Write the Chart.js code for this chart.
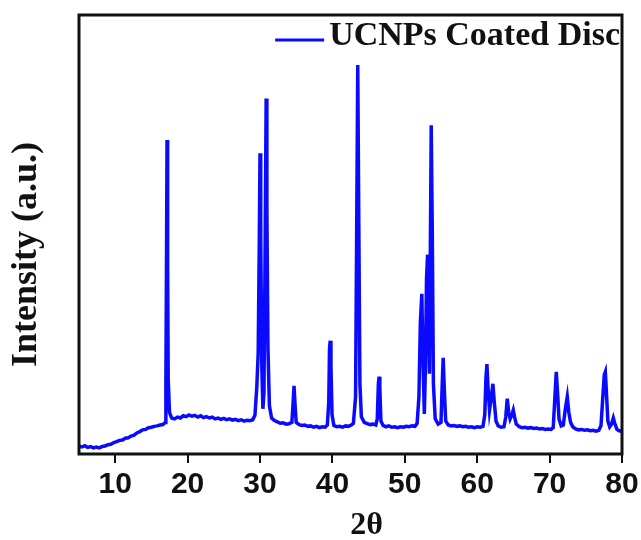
<!DOCTYPE html>
<html>
<head>
<meta charset="utf-8">
<script src="https://cdn.jsdelivr.net/npm/chart.js@4.4.1/dist/chart.umd.min.js"></script>
<style>
  html, body { margin: 0; padding: 0; background: #fff; }
  canvas { display: block; }
</style>
</head>
<body>
<canvas id="xrd" width="641" height="540"></canvas>
<script>
// XRD pattern, values (intensity in arbitrary units)
const seriesName = "UCNPs Coated Disc";
const xTitle = "2θ";
const yTitle = "Intensity (a.u.)";
const xTicks = [10, 20, 30, 40, 50, 60, 70, 80];

const twoTheta = [
  5.0, 5.4, 5.8, 6.2, 6.6, 7.0, 7.4, 7.8, 8.2, 8.6,
  9.0, 9.4, 9.8, 10.2, 10.6, 11.0, 11.4, 11.8, 12.2, 12.6,
  13.0, 13.4, 13.8, 14.2, 14.6, 15.0, 15.4, 15.8, 16.2, 16.6,
  16.9, 17.0, 17.08, 17.16, 17.24, 17.32, 17.5, 17.8, 18.2, 18.6,
  19.0, 19.4, 19.8, 20.2, 20.6, 21.0, 21.4, 21.8, 22.2, 22.6,
  23.0, 23.4, 23.8, 24.2, 24.6, 25.0, 25.4, 25.8, 26.2, 26.6,
  27.0, 27.4, 27.8, 28.2, 28.6, 29.0, 29.3, 29.55, 29.75, 29.9,
  30.0, 30.1, 30.25, 30.4, 30.55, 30.7, 30.85, 30.95, 31.1, 31.3,
  31.6, 32.0, 32.4, 32.8, 33.2, 33.6, 34.0, 34.4, 34.55, 34.7,
  34.85, 35.0, 35.4, 35.8, 36.2, 36.6, 37.0, 37.4, 37.8, 38.2,
  38.6, 39.0, 39.3, 39.5, 39.6, 39.7, 39.8, 39.95, 40.2, 40.6,
  41.0, 41.4, 41.8, 42.2, 42.6, 42.9, 43.2, 43.35, 43.5, 43.65,
  43.8, 44.0, 44.4, 44.8, 45.2, 45.6, 46.0, 46.2, 46.35, 46.45,
  46.55, 46.7, 47.0, 47.4, 47.8, 48.2, 48.6, 49.0, 49.4, 49.8,
  50.2, 50.6, 51.0, 51.4, 51.7, 51.95, 52.15, 52.35, 52.5, 52.7,
  52.85, 53.0, 53.15, 53.3, 53.4, 53.5, 53.65, 53.8, 53.95, 54.2,
  54.6, 55.0, 55.15, 55.3, 55.45, 55.65, 56.0, 56.4, 56.8, 57.2,
  57.6, 58.0, 58.4, 58.8, 59.2, 59.6, 60.0, 60.4, 60.8, 61.05,
  61.2, 61.34, 61.5, 61.7, 61.95, 62.17, 62.35, 62.6, 62.9, 63.3,
  63.7, 63.95, 64.15, 64.35, 64.55, 64.8, 64.98, 65.15, 65.4, 65.8,
  66.2, 66.6, 67.0, 67.4, 67.8, 68.2, 68.6, 69.0, 69.4, 69.8,
  70.2, 70.5, 70.7, 70.92, 71.1, 71.3, 71.6, 71.9, 72.15, 72.44,
  72.65, 72.9, 73.2, 73.6, 74.0, 74.4, 74.8, 75.2, 75.6, 76.0,
  76.4, 76.8, 77.1, 77.35, 77.55, 77.7, 77.85, 78.05, 78.3, 78.55,
  78.8, 79.0, 79.3, 79.6, 80.0
];

const intensity = [
  18, 16, 19, 15, 17, 14, 16, 14, 17, 18,
  21, 22, 26, 28, 31, 32, 36, 37, 41, 43,
  48, 51, 55, 56, 60, 61, 63, 64, 66, 67,
  72, 160, 420, 715, 430, 170, 95, 82, 80, 84,
  82, 87, 85, 89, 86, 88, 84, 87, 83, 85,
  82, 84, 80, 82, 79, 81, 78, 80, 77, 79,
  76, 78, 75, 77, 76, 78, 88, 150, 230, 480,
  685, 500, 200, 103, 140, 450, 810, 560, 240, 110,
  82, 76, 73, 70, 71, 68, 69, 72, 110, 155,
  110, 72, 67, 65, 66, 63, 64, 61, 63, 60,
  62, 61, 66, 120, 240, 258, 200, 90, 65, 62,
  63, 61, 64, 63, 66, 70, 130, 500, 886, 520,
  160, 85, 72, 69, 67, 68, 66, 80, 160, 176,
  150, 75, 65, 62, 64, 61, 62, 60, 62, 61,
  63, 62, 64, 63, 70, 130, 300, 365, 220, 91,
  200, 400, 454, 290, 183, 400, 749, 500, 160, 80,
  68, 72, 150, 219, 150, 75, 66, 64, 65, 63,
  64, 62, 63, 61, 62, 60, 62, 61, 63, 90,
  170, 205, 150, 100, 130, 160, 120, 75, 64, 61,
  62, 85, 126, 95, 80, 90, 100, 85, 68, 62,
  60, 61, 59, 60, 58, 59, 57, 58, 56, 57,
  56, 60, 120, 187, 140, 80, 64, 66, 100, 130,
  95, 72, 62, 57, 55, 56, 54, 55, 53, 54,
  52, 54, 65, 130, 180, 187, 140, 75, 62, 68,
  82, 70, 56, 53, 52
];

const lineColor = '#0a0aff';
const inkColor = '#111111';

// frame round the plot, legend in the top right corner, axis titles
const frameAndTitles = {
  id: 'frameAndTitles',
  afterDatasetsDraw(chart) {
    const { ctx, chartArea: a } = chart;
    ctx.save();
    ctx.strokeStyle = inkColor;
    ctx.lineWidth = 3;
    ctx.strokeRect(a.left, a.top, a.right - a.left, a.bottom - a.top);

    // legend
    ctx.font = 'bold 34px "Liberation Serif"';
    ctx.fillStyle = inkColor;
    ctx.textAlign = 'right';
    ctx.textBaseline = 'alphabetic';
    const textRight = a.right - 2;
    const textLeft = textRight - ctx.measureText(seriesName).width;
    ctx.fillText(seriesName, textRight, a.top + 30);
    ctx.strokeStyle = lineColor;
    ctx.lineWidth = 3;
    ctx.beginPath();
    ctx.moveTo(textLeft - 54, a.top + 25);
    ctx.lineTo(textLeft - 5, a.top + 25);
    ctx.stroke();
    ctx.restore();
  },
  afterDraw(chart) {
    const { ctx, chartArea: a } = chart;
    ctx.save();
    ctx.fillStyle = inkColor;
    ctx.textAlign = 'center';
    ctx.textBaseline = 'middle';
    ctx.font = 'bold 32px "Liberation Serif"';
    ctx.fillText(xTitle, (a.left + a.right) / 2 + 16, a.bottom + 72);
    ctx.translate(a.left - 52, (a.top + a.bottom) / 2 + 20);
    ctx.rotate(-Math.PI / 2);
    ctx.font = 'bold 36px "Liberation Serif"';
    ctx.fillText(yTitle, 0, 0);
    ctx.restore();
  }
};

new Chart(document.getElementById('xrd'), {
  type: 'line',
  data: {
    datasets: [{
      label: seriesName,
      data: twoTheta.map((t, i) => ({ x: t, y: intensity[i] })),
      borderColor: lineColor,
      backgroundColor: lineColor,
      borderWidth: 3.5,
      pointRadius: 0,
      tension: 0
    }]
  },
  options: {
    responsive: false,
    animation: false,
    layout: { padding: { left: 79, top: 15, right: 19, bottom: 33 } },
    plugins: {
      tooltip: { enabled: false },
      legend: { display: false }
    },
    scales: {
      x: {
        type: 'linear',
        min: 5,
        max: 80,
        afterBuildTicks: (scale) => { scale.ticks = xTicks.map(v => ({ value: v })); },
        grid: {
          display: true,
          drawOnChartArea: false,
          drawTicks: true,
          tickLength: 9,
          color: inkColor,
          lineWidth: 2
        },
        border: { display: false },
        ticks: {
          padding: 0,
          color: inkColor,
          maxRotation: 0,
          autoSkip: false,
          font: { family: 'Liberation Sans', size: 30, weight: 'bold', lineHeight: 1.4667 }
        }
      },
      y: {
        display: false,
        min: 0,
        max: 1000
      }
    }
  },
  plugins: [frameAndTitles]
});
</script>
</body>
</html>
